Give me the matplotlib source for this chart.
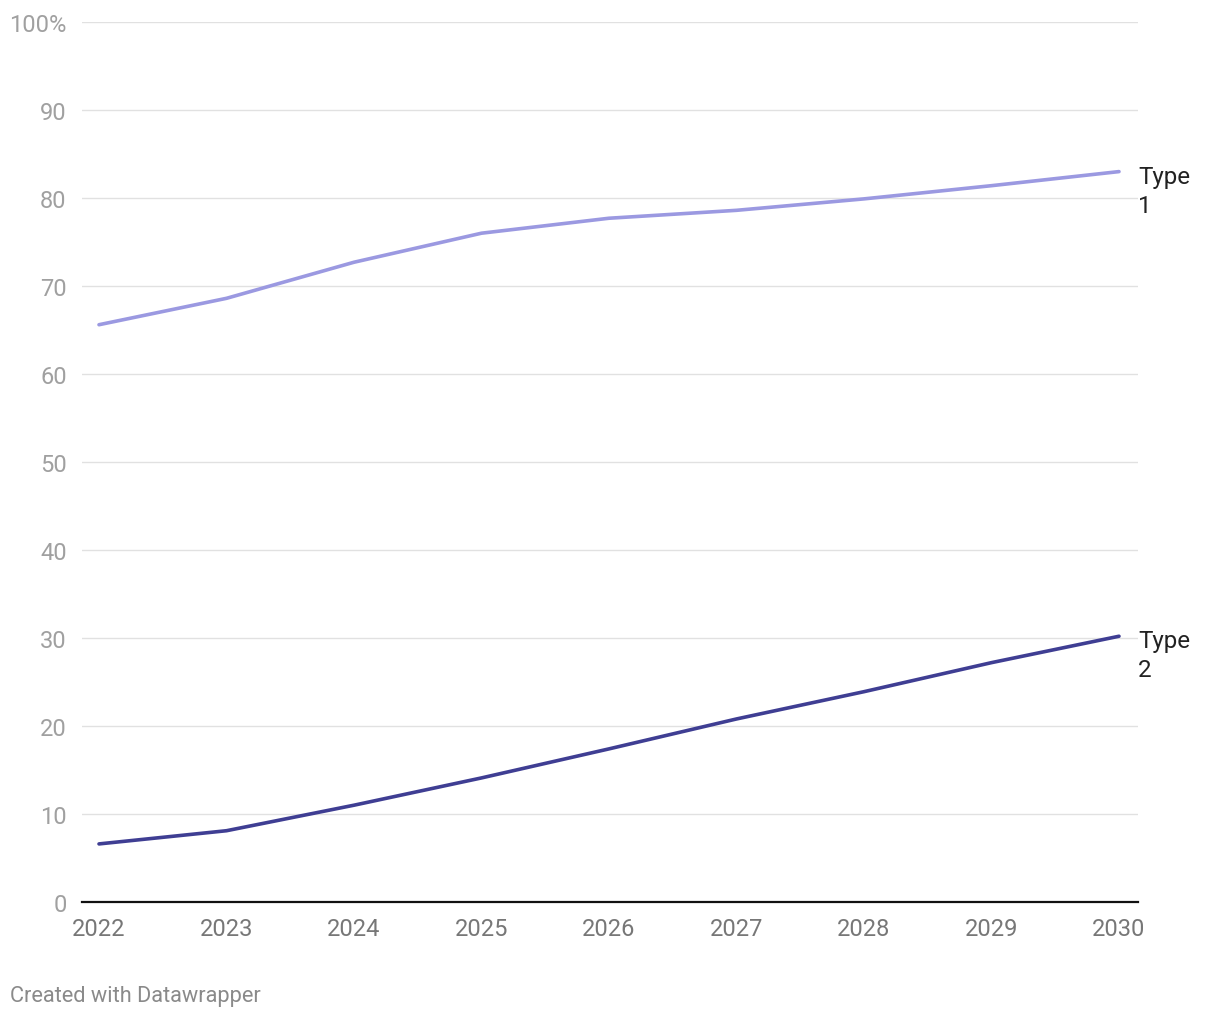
import matplotlib.pyplot as plt

plt.rcParams['font.family'] = ['Roboto', 'DejaVu Sans']

years = [2022, 2023, 2024, 2025, 2026, 2027, 2028, 2029, 2030]
type1 = [65.6, 68.6, 72.7, 76.0, 77.7, 78.6, 79.9, 81.4, 83.0]
type2 = [6.6, 8.1, 11.0, 14.1, 17.4, 20.8, 23.9, 27.2, 30.2]
yticks = [0, 10, 20, 30, 40, 50, 60, 70, 80, 90, 100]
ytick_labels = ['0', '10', '20', '30', '40', '50', '60', '70', '80', '90', '100%']

fig = plt.figure(figsize=(12.2, 10.2), dpi=100)
ax = fig.add_axes([82 / 1220, 1 - 903 / 1020, (1138 - 82) / 1220, 880 / 1020])

ax.plot(years, type1, color='#9b99e1', lw=2.6, solid_capstyle='round', zorder=3)
ax.plot(years, type2, color='#3f3e93', lw=2.6, solid_capstyle='round', zorder=3)

ax.set_xlim(2022 - 17 / 127.5, 2030 + 19 / 127.5)
ax.set_ylim(0, 100)

ax.set_yticks(yticks)
ax.set_yticklabels(ytick_labels)
ax.set_xticks(years)
ax.set_xticklabels([str(y) for y in years])

ax.grid(axis='y', color='#e1e1e1', lw=1)
ax.set_axisbelow(True)
for s in ['top', 'right', 'left']:
    ax.spines[s].set_visible(False)
ax.spines['bottom'].set_color('#111111')
ax.spines['bottom'].set_linewidth(1.6)
ax.spines['bottom'].set_zorder(4)

ax.tick_params(axis='y', length=0, pad=11, labelsize=17, labelcolor='#a0a0a0')
ax.tick_params(axis='x', length=0, pad=11, labelsize=17, labelcolor='#777777')

# line labels on the right
ax.text(1138 / 1220, 1 - 192 / 1020, 'Type\n1', transform=fig.transFigure,
        fontsize=17.4, color='#222222', va='center', ha='left', linespacing=1.3)
ax.text(1138 / 1220, 1 - 656 / 1020, 'Type\n2', transform=fig.transFigure,
        fontsize=17.4, color='#222222', va='center', ha='left', linespacing=1.3)

fig.text(10 / 1220, 1 - 997 / 1020, 'Created with Datawrapper', fontsize=15.7,
         color='#8a8a8a', va='center', ha='left')

fig.savefig('out.png', dpi=100, facecolor='white')
